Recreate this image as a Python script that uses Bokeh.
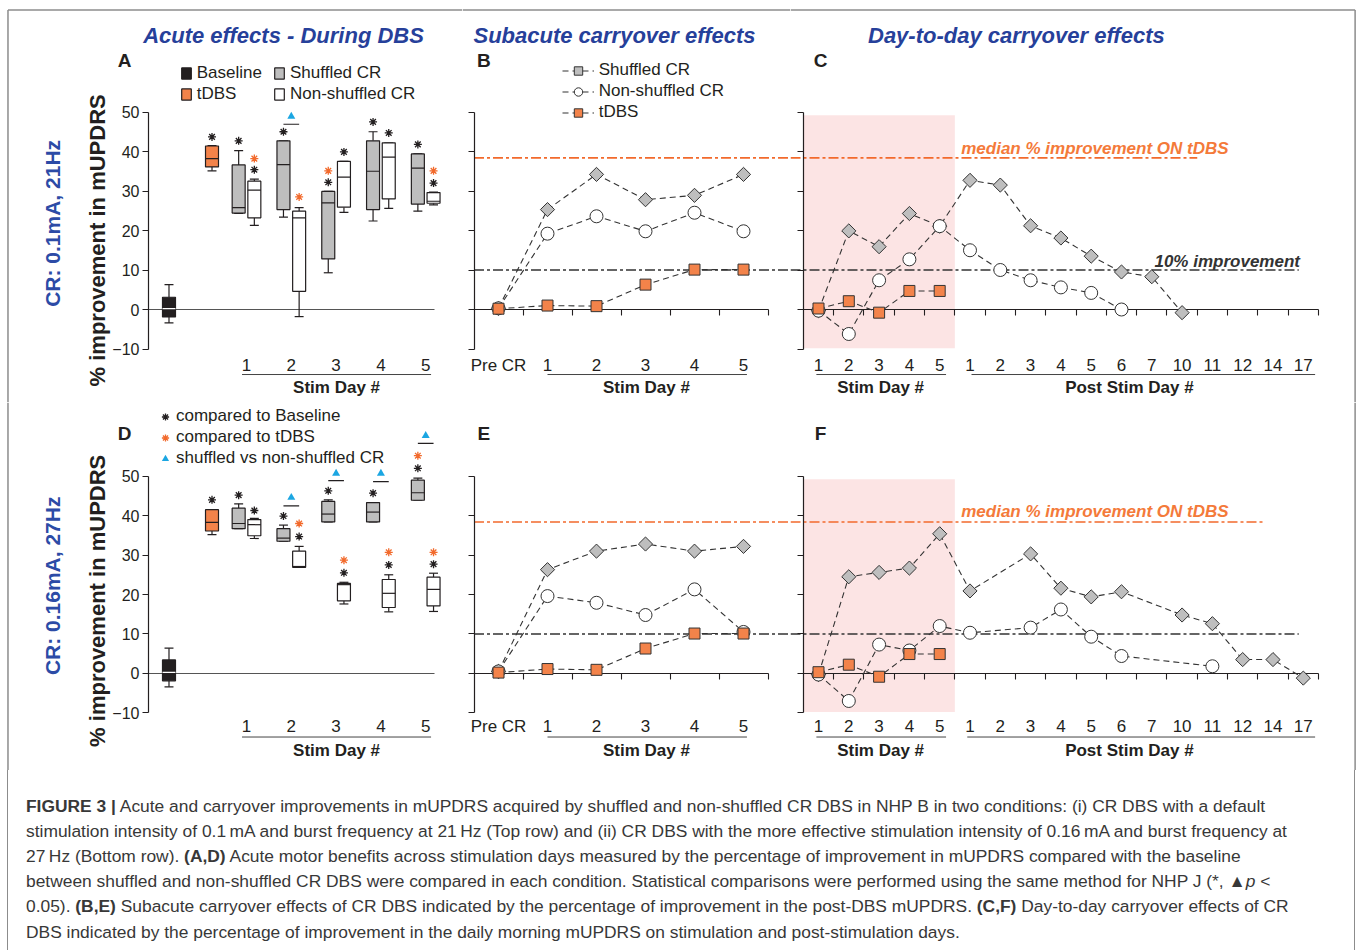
import math
from bokeh.plotting import figure
from bokeh.models import LinearAxis, FixedTicker, Range1d, Legend, LegendItem, Div, ColumnDataSource
from bokeh.layouts import row, column
from bokeh.embed import file_html
from bokeh.resources import INLINE
from bokeh.core.properties import value

nan = float("nan")
FONT = "Liberation Sans"

# ------------------------------------------------------------------ data
Y_TICKS = [-10, 0, 10, 20, 30, 40, 50]
STIM_DAYS = [1, 2, 3, 4, 5]
DAY_LABELS = ["1", "2", "3", "4", "5"]
SUB_LABELS = ["Pre CR", "1", "2", "3", "4", "5"]
D2D_LABELS = ["1", "2", "3", "4", "5", "1", "2", "3", "4", "5", "6", "7", "10", "11", "12", "14", "17"]
N_STIM = 5
MEDIAN_TDBS = 38.4
IMPROVE_10 = 10

# acute box stats: [whisker low, Q1, median, Q3, whisker high]
A_BASELINE = [-3.4, -1.9, 0.2, 3.1, 6.3]
A_TDBS = [35.1, 36.1, 38.2, 41.4, 41.5]
A_SHUFFLED = [[24.3, 24.4, 25.8, 36.6, 40.2], [23.4, 25.3, 36.7, 42.7, 42.7],
              [9.3, 12.8, 27.0, 29.9, 29.9], [22.4, 25.3, 35.0, 42.7, 45.0],
              [24.9, 26.7, 35.8, 39.4, 39.4]]
A_NONSHUF = [[21.3, 23.2, 30.2, 32.5, 33.0], [-1.8, 4.6, 23.2, 24.9, 25.8],
             [24.6, 25.9, 33.5, 37.5, 37.5], [25.6, 28.0, 38.6, 42.2, 42.2],
             [26.5, 26.9, 27.4, 29.6, 29.7]]
D_BASELINE = [-3.4, -1.9, 0.25, 3.4, 6.4]
D_TDBS = [35.2, 36.1, 38.3, 41.5, 41.5]
D_SHUFFLED = [[36.7, 36.7, 38.0, 41.9, 43.0], [33.5, 33.5, 34.3, 36.7, 37.6],
              [38.4, 38.4, 40.4, 43.6, 44.0], [38.4, 38.4, 40.9, 43.3, 43.3],
              [43.9, 43.9, 45.8, 49.0, 49.5]]
D_NONSHUF = [[34.2, 34.9, 37.7, 39.0, 39.3], [26.9, 26.9, 27.1, 31.0, 32.2],
             [17.6, 18.4, 22.5, 22.8, 23.1], [15.6, 16.7, 20.3, 23.8, 25.0],
             [15.7, 17.1, 21.3, 24.4, 25.4]]

# significance marks: (group, day, y) with t=tDBS, s=shuffled, n=non-shuffled
A_SIG_BASE = [("t", 0, 43.7), ("s", 1, 42.7), ("n", 1, 35.4), ("s", 2, 45.0), ("s", 3, 32.2),
              ("n", 3, 39.9), ("s", 4, 47.5), ("n", 4, 44.7), ("s", 5, 41.8), ("n", 5, 32.0)]
A_SIG_TDBS = [("n", 1, 38.2), ("n", 2, 28.5), ("s", 3, 35.1), ("n", 5, 35.1)]
A_SIG_SHUF = [(2, 48.9, 46.9)]           # (day, triangle y, bar y)
D_SIG_BASE = [("t", 0, 44.0), ("s", 1, 45.2), ("n", 1, 41.3), ("s", 2, 39.9), ("n", 2, 34.7),
              ("s", 3, 46.3), ("n", 3, 25.5), ("s", 4, 45.7), ("n", 4, 27.5), ("s", 5, 52.0),
              ("n", 5, 27.7)]
D_SIG_TDBS = [("n", 2, 38.0), ("n", 3, 28.7), ("n", 4, 30.7), ("s", 5, 55.2), ("n", 5, 30.7)]
D_SIG_SHUF = [(2, 44.6, 42.5), (3, 50.7, 48.9), (4, 50.7, 48.6), (5, 60.3, 58.3)]

# subacute (Pre CR, stim day 1..5)
B_SHUF = [0.3, 25.3, 34.2, 27.8, 28.9, 34.2]
B_NONSHUF = [0.3, 19.2, 23.6, 19.8, 24.5, 19.8]
B_TDBS = [0.2, 1.0, 0.85, 6.3, 10.1, 10.1]
E_SHUF = [0.5, 26.3, 31.0, 32.8, 31.0, 32.2]
E_NONSHUF = [0.5, 19.6, 17.9, 14.8, 21.3, 10.5]
E_TDBS = [0.2, 1.1, 0.9, 6.3, 10.1, 10.1]

# day-to-day (stim 1..5, post 1,2,3,4,5,6,7,10,11,12,14,17)
C_SHUF = [-0.3, 19.9, 15.9, 24.3, 21.1, 32.7, 31.5, 21.2, 18.1, 13.5, 9.5, 8.3, -0.8, nan, nan, nan, nan]
C_NONSHUF = [-0.3, -6.2, 7.4, 12.7, 21.1, 15.0, 10.0, 7.4, 5.6, 4.2, 0.0, nan, nan, nan, nan, nan, nan]
C_TDBS = [0.25, 2.1, -0.8, 4.7, 4.7] + [nan] * 12
F_SHUF = [-0.3, 24.5, 25.6, 26.7, 35.4, 20.9, nan, 30.3, 21.6, 19.4, 20.7, nan, 14.8, 12.6, 3.5, 3.5, -1.2]
F_NONSHUF = [-0.3, -7.0, 7.3, 5.8, 12.0, 10.3, nan, 11.6, 16.2, 9.3, 4.4, nan, nan, 1.8, nan, nan, nan]
F_TDBS = [0.3, 2.2, -0.85, 4.9, 4.9] + [nan] * 12

# ------------------------------------------------------------------ style / layout
INK = "#231F20"
GRAY = "#BEBEBE"
ORANGE = "#F3834A"
ORANGE_LINE = "#F26A2C"
ORANGE_TXT = "#F47A3A"
BLUE = "#1BA6E2"
TITLE_BLUE = "#26409A"
ROW_BLUE = "#2C4BA6"
PINK = "#FCE4E4"
FRAME = "#8C8C8C"

W_A, W_B, W_C = 462, 328, 566
ROW1 = dict(h=402, yr=(-23.544, 78.23), lab=-14.08, under=-16.46, stim=-19.75,
            letter=63.0, title=69.37, ylab=17.5, rowlab=21.8, top=75.82)
ROW2 = dict(h=368, yr=(-24.63, 68.69), lab=-13.47, under=-16.14, stim=-19.5,
            letter=60.75, title=None, ylab=18.4, rowlab=22.2, top=None)
A_XR = (-4.491, 5.8214)
B_XR = (-0.7347, 5.959)
C_XR = (-0.9241, 17.756)
A_FRAME_X = -4.324
C_FRAME_X = 17.71
A_YAXIS_X = -1.1875
BASE_X, TDBS_X, OFF = -0.73, 0.23, 0.175
BOX_W, CAP_W = 0.29, 0.2


def make_fig(w, h, xr, yr):
    return figure(width=w, height=h, x_range=Range1d(*xr), y_range=Range1d(*yr),
                  x_axis_type=None, y_axis_type=None, toolbar_location=None, title=None,
                  output_backend="svg", min_border=0, outline_line_color=None,
                  background_fill_color="white", border_fill_color="white")


def frame_lines(p, g, left=None, right=None):
    y0, y1 = g["yr"]
    top = g["top"] if g["top"] is not None else y1
    if g["top"] is not None:
        x0 = left if left is not None else p.x_range.start
        x1 = right if right is not None else p.x_range.end
        p.segment([x0], [top], [x1], [top], line_color=FRAME, line_width=1.5)
    for x in (left, right):
        if x is not None:
            p.segment([x], [y0], [x], [top], line_color=FRAME, line_width=1.5)


def txt(p, x, y, s, size, color=INK, style="normal", align="center", angle=0.0):
    p.text(x=[x], y=[y], text=[s], text_font=value(FONT), text_font_size=size,
           text_font_style=style, text_color=color, text_align=align,
           text_baseline="middle", angle=angle)


def yaxis(p, xloc, show_labels):
    ax = LinearAxis(fixed_location=xloc, ticker=FixedTicker(ticks=Y_TICKS), bounds=(-10, 50),
                    axis_line_color=INK, axis_line_width=1.2,
                    major_tick_line_color=INK, major_tick_line_width=1.2,
                    major_tick_out=6, major_tick_in=0, minor_tick_line_color=None,
                    major_label_standoff=3, major_label_text_font=FONT,
                    major_label_text_font_size="16px",
                    major_label_text_color=INK if show_labels else None)
    p.add_layout(ax, "left")


def zero_axis(p, lo, hi, ticks, color=INK, width=1.1):
    ax = LinearAxis(fixed_location=0, bounds=(lo, hi), ticker=FixedTicker(ticks=ticks),
                    axis_line_color=color, axis_line_width=width,
                    major_tick_line_color=color if ticks else None, major_tick_line_width=1.1,
                    major_tick_out=6, major_tick_in=0, minor_tick_line_color=None,
                    major_label_text_color=None, level="underlay")
    p.add_layout(ax, "below")


def legend(items, loc, gw, gh, standoff):
    return Legend(items=items, location=loc, glyph_width=gw, glyph_height=gh,
                  label_height=21, label_standoff=standoff, spacing=0,
                  padding=0, margin=0, border_line_color=None, background_fill_alpha=0,
                  label_text_font=FONT, label_text_font_size="17px", label_text_color=INK)


def gx(g, d):
    if g == "b":
        return BASE_X
    if g == "t":
        return TDBS_X
    return d - OFF if g == "s" else d + OFF


def boxes(p, xs, stats, fill, med_color):
    lo, q1, md, q3, hi = [list(c) for c in zip(*stats)]
    src = ColumnDataSource(dict(x=xs, lo=lo, q1=q1, md=md, q3=q3, hi=hi,
                                xl=[x - BOX_W / 2 for x in xs], xr=[x + BOX_W / 2 for x in xs],
                                cl=[x - CAP_W / 2 for x in xs], cr=[x + CAP_W / 2 for x in xs]))
    kw = dict(source=src, line_color=INK, line_width=1.2)
    p.segment("x", "lo", "x", "q1", **kw)
    p.segment("x", "q3", "x", "hi", **kw)
    p.segment("cl", "lo", "cr", "lo", **kw)
    p.segment("cl", "hi", "cr", "hi", **kw)
    r = p.vbar(x="x", width=BOX_W, bottom="q1", top="q3", fill_color=fill, **kw)
    p.segment("xl", "md", "xr", "md", source=src, line_color=med_color, line_width=1.2)
    return r


def acute_panel(g, base, tdbs, shuf, nons, sig_b, sig_t, sig_s, letter, rowlab, first):
    p = make_fig(W_A, g["h"], A_XR, g["yr"])
    frame_lines(p, g, left=A_FRAME_X)
    zero_axis(p, A_YAXIS_X, 5.2, [], color="#555555", width=1.0)
    yaxis(p, A_YAXIS_X, True)
    r_base = boxes(p, [BASE_X], [base], INK, "white")
    r_tdbs = boxes(p, [TDBS_X], [tdbs], ORANGE, INK)
    r_s = boxes(p, [d - OFF for d in STIM_DAYS], shuf, GRAY, INK)
    r_n = boxes(p, [d + OFF for d in STIM_DAYS], nons, "white", INK)

    rb = p.scatter([gx(a, d) for a, d, _ in sig_b], [y for _, _, y in sig_b], marker="asterisk",
                   size=8, line_color=INK, line_width=1.3)
    ro = p.scatter([gx(a, d) for a, d, _ in sig_t], [y for _, _, y in sig_t], marker="asterisk",
                   size=8, line_color=ORANGE_LINE, line_width=1.3)
    p.segment([d - OFF for d, _, _ in sig_s], [b for _, _, b in sig_s],
              [d + OFF for d, _, _ in sig_s], [b for _, _, b in sig_s], line_color=INK, line_width=1.2)
    rt = p.scatter([d for d, _, _ in sig_s], [t for _, t, _ in sig_s], marker="triangle",
                   size=8, fill_color=BLUE, line_color=None)

    p.text(x=STIM_DAYS, y=[g["lab"]] * len(STIM_DAYS), text=DAY_LABELS, text_font=value(FONT),
           text_font_size="17px", text_color=INK, text_align="center", text_baseline="middle")
    p.segment([0.9], [g["under"]], [5.12], [g["under"]], line_color="#444444", line_width=1)
    txt(p, 3.01, g["stim"], "Stim Day #", "17px", style="bold")
    txt(p, -2.326, g["ylab"], "% improvement in mUPDRS", "22px", style="bold", angle=math.pi / 2)
    txt(p, -3.33, g["rowlab"], rowlab, "21px", color=ROW_BLUE, style="bold", angle=math.pi / 2)
    txt(p, -1.72, g["letter"], letter, "19px", style="bold")
    if first:
        txt(p, 1.826, g["title"], "Acute effects - During DBS", "22px", color=TITLE_BLUE,
            style="bold italic")
        p.add_layout(legend([LegendItem(label="Baseline", renderers=[r_base]),
                             LegendItem(label="tDBS", renderers=[r_tdbs])],
                            (179.7, 297.8), 12, 14, 5))
        p.add_layout(legend([LegendItem(label="Shuffled CR", renderers=[r_s]),
                             LegendItem(label="Non-shuffled CR", renderers=[r_n])],
                            (273.0, 297.8), 12, 14, 5))
    else:
        p.add_layout(legend([LegendItem(label="compared to Baseline", renderers=[rb]),
                             LegendItem(label="compared to tDBS", renderers=[ro]),
                             LegendItem(label="shuffled vs non-shuffled CR", renderers=[rt])],
                            (156.0, 301.5), 18, 21, 2))
    return p


def draw_series(p, xs, sh, ns, td):
    def clean(ys):
        pts = [(x, y) for x, y in zip(xs, ys) if not math.isnan(y)]
        return [x for x, _ in pts], [y for _, y in pts]
    dash = dict(line_color="#333333", line_width=1.1, line_dash="6 4")
    xsh, ysh = clean(sh)
    xns, yns = clean(ns)
    xtd, ytd = clean(td)
    l_s = p.line(xsh, ysh, **dash)
    l_n = p.line(xns, yns, **dash)
    l_t = p.line(xtd, ytd, **dash)
    m_s = p.scatter(xsh, ysh, marker="square", angle=math.pi / 4, size=10, fill_color=GRAY,
                    line_color="#333333", line_width=1)
    m_n = p.scatter(xns, yns, marker="circle", size=13, fill_color="white",
                    line_color="#333333", line_width=1)
    m_t = p.scatter(xtd, ytd, marker="square", size=11, fill_color=ORANGE,
                    line_color="#333333", line_width=1)
    return (l_s, m_s), (l_n, m_n), (l_t, m_t)


def ref_lines(p, x0, orange_end, black_end):
    p.segment([x0], [MEDIAN_TDBS], [orange_end], [MEDIAN_TDBS], line_color=ORANGE_LINE,
              line_width=1.6, line_dash="10 3 3 3")
    p.segment([x0], [IMPROVE_10], [black_end], [IMPROVE_10], line_color="#333333",
              line_width=1.4, line_dash="10 3 3 3")


def sub_panel(g, sh, ns, td, letter, first):
    p = make_fig(W_B, g["h"], B_XR, g["yr"])
    frame_lines(p, g)
    n = len(SUB_LABELS)
    xs = list(range(n))
    zero_axis(p, -0.5, n - 0.5, [i + 0.5 for i in range(n)])
    yaxis(p, -0.5, False)
    ref_lines(p, -0.5, B_XR[1], B_XR[1])
    rs, rn, rt = draw_series(p, xs, sh, ns, td)
    p.text(x=xs, y=[g["lab"]] * n, text=SUB_LABELS, text_font=value(FONT), text_font_size="17px",
           text_color=INK, text_align="center", text_baseline="middle")
    p.segment([1.0], [g["under"]], [5.07], [g["under"]], line_color="#444444", line_width=1)
    txt(p, 3.02, g["stim"], "Stim Day #", "17px", style="bold")
    txt(p, -0.3, g["letter"], letter, "19px", style="bold")
    if first:
        txt(p, 2.367, g["title"], "Subacute carryover effects", "22px", color=TITLE_BLUE,
            style="bold italic")
        p.add_layout(legend([LegendItem(label="Shuffled CR", renderers=list(rs)),
                             LegendItem(label="Non-shuffled CR", renderers=list(rn)),
                             LegendItem(label="tDBS", renderers=list(rt))],
                            (99.7, 279.5), 32, 21, 5))
    return p


def d2d_panel(g, sh, ns, td, letter, first, orange_end, med_y, post_start):
    p = make_fig(W_C, g["h"], C_XR, g["yr"])
    n = len(D2D_LABELS)
    xs = list(range(n))
    p.quad(left=[-0.5], right=[N_STIM - 0.5], bottom=[-9.8], top=[49.2], fill_color=PINK,
           line_color=None, level="underlay")
    frame_lines(p, g, right=C_FRAME_X)
    zero_axis(p, -0.5, n - 0.5, [i + 0.5 for i in range(n)])
    yaxis(p, -0.5, False)
    ref_lines(p, C_XR[0], orange_end, 15.85)
    draw_series(p, xs, sh, ns, td)
    p.text(x=xs, y=[g["lab"]] * n, text=D2D_LABELS, text_font=value(FONT), text_font_size="17px",
           text_color=INK, text_align="center", text_baseline="middle")
    p.segment([-0.07, post_start], [g["under"]] * 2, [4.21, 16.39], [g["under"]] * 2,
              line_color="#444444", line_width=1)
    txt(p, 2.05, g["stim"], "Stim Day #", "17px", style="bold")
    txt(p, 10.26, g["stim"], "Post Stim Day #", "17px", style="bold")
    txt(p, 0.066, g["letter"], letter, "19px", style="bold")
    txt(p, 4.71, med_y, "median % improvement ON tDBS", "17px", color=ORANGE_TXT,
        style="bold italic", align="left")
    if first:
        txt(p, 6.53, g["title"], "Day-to-day carryover effects", "22px", color=TITLE_BLUE,
            style="bold italic")
        txt(p, 15.89, 12.2, "10% improvement", "17px", color="#333333", style="bold italic",
            align="right")
    return p


pA = acute_panel(ROW1, A_BASELINE, A_TDBS, A_SHUFFLED, A_NONSHUF, A_SIG_BASE, A_SIG_TDBS,
                 A_SIG_SHUF, "A", "CR: 0.1mA, 21Hz", True)
pB = sub_panel(ROW1, B_SHUF, B_NONSHUF, B_TDBS, "B", True)
pC = d2d_panel(ROW1, C_SHUF, C_NONSHUF, C_TDBS, "C", True, 12.5, 40.8, 5.05)
pD = acute_panel(ROW2, D_BASELINE, D_TDBS, D_SHUFFLED, D_NONSHUF, D_SIG_BASE, D_SIG_TDBS,
                 D_SIG_SHUF, "D", "CR: 0.16mA, 27Hz", False)
pE = sub_panel(ROW2, E_SHUF, E_NONSHUF, E_TDBS, "E", False)
pF = d2d_panel(ROW2, F_SHUF, F_NONSHUF, F_TDBS, "F", False, 14.72, 41.1, 4.91)

CAPTION_LINES = [
    "<b>FIGURE 3 |</b> Acute and carryover improvements in mUPDRS acquired by shuffled and non-shuffled CR DBS in NHP B in two conditions: (i) CR DBS with a default",
    "stimulation intensity of 0.1&thinsp;mA and burst frequency at 21&thinsp;Hz (Top row) and (ii) CR DBS with the more effective stimulation intensity of 0.16&thinsp;mA and burst frequency at",
    "27&thinsp;Hz (Bottom row). <b>(A,D)</b> Acute motor benefits across stimulation days measured by the percentage of improvement in mUPDRS compared with the baseline",
    "between shuffled and non-shuffled CR DBS were compared in each condition. Statistical comparisons were performed using the same method for NHP J (*, &#9650;<i>p</i> &lt;",
    "0.05). <b>(B,E)</b> Subacute carryover effects of CR DBS indicated by the percentage of improvement in the post-DBS mUPDRS. <b>(C,F)</b> Day-to-day carryover effects of CR",
    "DBS indicated by the percentage of improvement in the daily morning mUPDRS on stimulation and post-stimulation days.",
]
CAP_H = 180
caption_html = (
    '<div style="position:relative;width:1356px;height:%dpx;">' % CAP_H
    + '<div style="position:absolute;left:6.75px;top:0;width:1.5px;height:%dpx;background:%s;"></div>' % (CAP_H, FRAME)
    + '<div style="position:absolute;left:1353.75px;top:0;width:1.5px;height:%dpx;background:%s;"></div>' % (CAP_H, FRAME)
    + '<div style="position:absolute;left:26px;top:23.5px;font-family:\'Liberation Sans\',Arial,sans-serif;'
      'font-size:17.4px;line-height:25.2px;color:#383838;white-space:nowrap;">'
    + "<br>".join(CAPTION_LINES) + "</div></div>")
caption = Div(text=caption_html, width=1356, height=CAP_H, margin=0)

layout = column(row(pA, pB, pC), row(pD, pE, pF), caption)

open("out.html", "w").write(file_html(layout, INLINE))
